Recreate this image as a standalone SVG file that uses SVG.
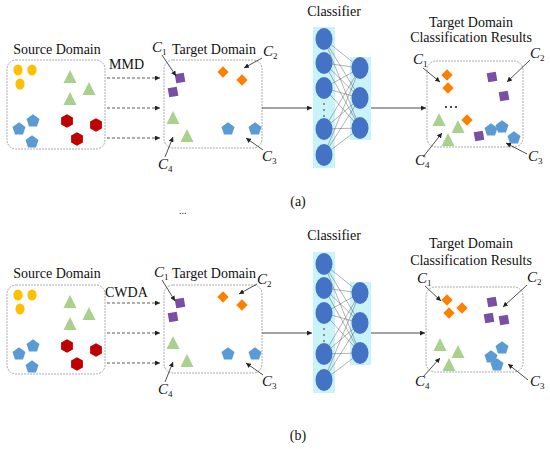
<svg xmlns="http://www.w3.org/2000/svg" xmlns:xlink="http://www.w3.org/1999/xlink" width="550" height="449" viewBox="0 0 550 449">
<style>
text{font-family:"Liberation Serif","Times New Roman",serif;fill:#111}
.t{font-size:14px;text-anchor:middle}
.tl{font-size:14px}
.cl{font-size:15px;font-style:italic}
.sub{font-size:9px;font-style:normal}
.box{fill:#fff;stroke:#aaa;stroke-width:1;stroke-dasharray:2,1}
.dash{stroke:#333;stroke-width:0.8;stroke-dasharray:3,2;fill:none}
.sol{stroke:#333;stroke-width:0.9;fill:none}
.ptr{stroke:#222;stroke-width:0.8;fill:none}
.nn{stroke:#555;stroke-width:0.45}
.bg{fill:#c8f3f8}
.neu{fill:#4472c4}
</style>
<defs>
<marker id="ah" markerUnits="userSpaceOnUse" markerWidth="6" markerHeight="5" refX="5" refY="2.5" orient="auto"><path d="M0,0 L5,2.5 L0,5 Z" fill="#222"/></marker>
<ellipse id="yel" cx="0" cy="0" rx="4.6" ry="5.6" fill="#ffc000"/>
<path id="tri" d="M0,-7 L6.5,6 L-6.5,6 Z" fill="#a9d18e"/>
<path id="pen" d="M0,-6.8 L6.5,-2.1 L4,5.5 L-4,5.5 L-6.5,-2.1 Z" fill="#5b9bd5"/>
<path id="hex" d="M0,-6.8 L5.9,-3.4 L5.9,3.4 L0,6.8 L-5.9,3.4 L-5.9,-3.4 Z" fill="#c00000"/>
<rect id="sq" x="-4.6" y="-4.6" width="9.2" height="9.2" fill="#7a4fa3" transform="rotate(-10)"/>
<rect id="dia" x="-4" y="-4" width="8" height="8" fill="#ff7f00" transform="rotate(45)"/>
</defs>

<!-- ===== Panel (a) ===== -->
<g id="source-a">
<text class="t" x="57" y="54">Source Domain</text>
<rect class="box" x="7" y="60" width="98" height="89" rx="9"/>
<use xlink:href="#yel" x="18" y="70"/><use xlink:href="#yel" x="32" y="70"/><use xlink:href="#yel" x="20" y="84"/>
<use xlink:href="#tri" x="70" y="77"/><use xlink:href="#tri" x="89" y="89"/><use xlink:href="#tri" x="70" y="99"/>
<use xlink:href="#pen" x="19" y="129"/><use xlink:href="#pen" x="33" y="121"/><use xlink:href="#pen" x="32" y="142"/>
<use xlink:href="#hex" x="67" y="121"/><use xlink:href="#hex" x="96" y="125"/><use xlink:href="#hex" x="77" y="139"/>
</g>
<text id="mmd" class="tl" x="109" y="69">MMD</text>

<g id="target-a">
<text class="t" x="214" y="54">Target Domain</text>
<rect class="box" x="164" y="60" width="98" height="88" rx="9"/>
<use xlink:href="#sq" x="180" y="78"/><use xlink:href="#sq" x="173" y="92"/>
<use xlink:href="#dia" x="223" y="72"/><use xlink:href="#dia" x="242" y="80"/>
<use xlink:href="#tri" x="173" y="118"/><use xlink:href="#tri" x="187" y="136"/>
<use xlink:href="#pen" x="228" y="129"/><use xlink:href="#pen" x="255" y="129"/>
<text class="cl" x="152" y="52">C<tspan class="sub" dy="3">1</tspan></text>
<text class="cl" x="263" y="56">C<tspan class="sub" dy="3">2</tspan></text>
<text class="cl" x="262" y="161">C<tspan class="sub" dy="3">3</tspan></text>
<text class="cl" x="158" y="169">C<tspan class="sub" dy="3">4</tspan></text>
</g>

<g id="classifier-a">
<text class="t" x="334" y="16">Classifier</text>
<rect class="bg" x="313" y="27" width="22" height="141"/>
<rect class="bg" x="350" y="57" width="21" height="83"/>
<g class="nn">
<line x1="324" y1="39" x2="360" y2="68"/><line x1="324" y1="39" x2="360" y2="98"/><line x1="324" y1="39" x2="360" y2="128"/>
<line x1="324" y1="63" x2="360" y2="68"/><line x1="324" y1="63" x2="360" y2="98"/><line x1="324" y1="63" x2="360" y2="128"/>
<line x1="324" y1="88" x2="360" y2="68"/><line x1="324" y1="88" x2="360" y2="98"/><line x1="324" y1="88" x2="360" y2="128"/>
<line x1="324" y1="129" x2="360" y2="68"/><line x1="324" y1="129" x2="360" y2="98"/><line x1="324" y1="129" x2="360" y2="128"/>
<line x1="324" y1="155" x2="360" y2="68"/><line x1="324" y1="155" x2="360" y2="98"/><line x1="324" y1="155" x2="360" y2="128"/>
</g>
<g class="neu">
<ellipse cx="324" cy="39" rx="8.5" ry="11"/><ellipse cx="324" cy="63" rx="8.5" ry="11"/><ellipse cx="324" cy="88" rx="8.5" ry="11"/>
<ellipse cx="324" cy="129" rx="8.5" ry="11"/><ellipse cx="324" cy="155" rx="8.5" ry="11"/>
<ellipse cx="360" cy="68" rx="8.5" ry="11"/><ellipse cx="360" cy="98" rx="8.5" ry="11"/><ellipse cx="360" cy="128" rx="8.5" ry="11"/>
</g>
<g fill="#222"><circle cx="324" cy="104" r="0.8"/><circle cx="324" cy="110" r="0.8"/><circle cx="324" cy="116" r="0.8"/></g>
</g>

<g id="results-a">
<text class="t" x="471" y="27">Target Domain</text>
<text class="t" x="471" y="42">Classification Results</text>
<rect class="box" x="427" y="61" width="96" height="86" rx="9"/>
<use xlink:href="#dia" x="447" y="75"/><use xlink:href="#dia" x="448" y="88"/><use xlink:href="#dia" x="467" y="120"/>
<g fill="#111"><circle cx="446" cy="107" r="1"/><circle cx="451" cy="107" r="1"/><circle cx="456" cy="107" r="1"/></g>
<use xlink:href="#sq" x="492" y="77"/><use xlink:href="#sq" x="504" y="96"/><use xlink:href="#sq" x="479" y="136"/>
<use xlink:href="#tri" x="439" y="120"/><use xlink:href="#tri" x="458" y="127"/><use xlink:href="#tri" x="448" y="140"/>
<use xlink:href="#pen" x="491" y="130"/><use xlink:href="#pen" x="502" y="127"/><use xlink:href="#pen" x="514" y="138"/>
<text class="cl" x="413" y="64">C<tspan class="sub" dy="3">1</tspan></text>
<text class="cl" x="530" y="58">C<tspan class="sub" dy="3">2</tspan></text>
<text class="cl" x="528" y="161">C<tspan class="sub" dy="3">3</tspan></text>
<text class="cl" x="415" y="165">C<tspan class="sub" dy="3">4</tspan></text>
</g>

<text id="label-a" class="t" x="298" y="206">(a)</text>
<text id="ellipsis" class="tl" x="179" y="214" style="font-size:10px">...</text>

<!-- ===== Panel (b) ===== -->
<g id="source-b">
<text class="t" x="57" y="278">Source Domain</text>
<rect class="box" x="7" y="285" width="98" height="89" rx="9"/>
<use xlink:href="#yel" x="18" y="295"/><use xlink:href="#yel" x="32" y="295"/><use xlink:href="#yel" x="20" y="309"/>
<use xlink:href="#tri" x="70" y="302"/><use xlink:href="#tri" x="89" y="314"/><use xlink:href="#tri" x="70" y="324"/>
<use xlink:href="#pen" x="19" y="354"/><use xlink:href="#pen" x="33" y="346"/><use xlink:href="#pen" x="32" y="367"/>
<use xlink:href="#hex" x="67" y="346"/><use xlink:href="#hex" x="96" y="350"/><use xlink:href="#hex" x="77" y="364"/>
</g>
<text id="cwda" class="tl" x="105" y="297">CWDA</text>

<g id="target-b">
<text class="t" x="214" y="278">Target Domain</text>
<rect class="box" x="164" y="285" width="98" height="88" rx="9"/>
<use xlink:href="#sq" x="180" y="303"/><use xlink:href="#sq" x="173" y="317"/>
<use xlink:href="#dia" x="223" y="297"/><use xlink:href="#dia" x="242" y="305"/>
<use xlink:href="#tri" x="173" y="343"/><use xlink:href="#tri" x="187" y="361"/>
<use xlink:href="#pen" x="228" y="354"/><use xlink:href="#pen" x="255" y="354"/>
<text class="cl" x="154" y="277">C<tspan class="sub" dy="3">1</tspan></text>
<text class="cl" x="257" y="284">C<tspan class="sub" dy="3">2</tspan></text>
<text class="cl" x="262" y="386">C<tspan class="sub" dy="3">3</tspan></text>
<text class="cl" x="158" y="394">C<tspan class="sub" dy="3">4</tspan></text>
</g>

<g id="classifier-b">
<text class="t" x="334" y="240">Classifier</text>
<rect class="bg" x="313" y="252" width="22" height="141"/>
<rect class="bg" x="350" y="282" width="21" height="83"/>
<g class="nn">
<line x1="324" y1="264" x2="360" y2="293"/><line x1="324" y1="264" x2="360" y2="323"/><line x1="324" y1="264" x2="360" y2="353"/>
<line x1="324" y1="288" x2="360" y2="293"/><line x1="324" y1="288" x2="360" y2="323"/><line x1="324" y1="288" x2="360" y2="353"/>
<line x1="324" y1="313" x2="360" y2="293"/><line x1="324" y1="313" x2="360" y2="323"/><line x1="324" y1="313" x2="360" y2="353"/>
<line x1="324" y1="354" x2="360" y2="293"/><line x1="324" y1="354" x2="360" y2="323"/><line x1="324" y1="354" x2="360" y2="353"/>
<line x1="324" y1="380" x2="360" y2="293"/><line x1="324" y1="380" x2="360" y2="323"/><line x1="324" y1="380" x2="360" y2="353"/>
</g>
<g class="neu">
<ellipse cx="324" cy="264" rx="8.5" ry="11"/><ellipse cx="324" cy="288" rx="8.5" ry="11"/><ellipse cx="324" cy="313" rx="8.5" ry="11"/>
<ellipse cx="324" cy="354" rx="8.5" ry="11"/><ellipse cx="324" cy="380" rx="8.5" ry="11"/>
<ellipse cx="360" cy="293" rx="8.5" ry="11"/><ellipse cx="360" cy="323" rx="8.5" ry="11"/><ellipse cx="360" cy="353" rx="8.5" ry="11"/>
</g>
<g fill="#222"><circle cx="324" cy="329" r="0.8"/><circle cx="324" cy="335" r="0.8"/><circle cx="324" cy="341" r="0.8"/></g>
</g>

<g id="results-b">
<text class="t" x="471" y="248">Target Domain</text>
<text class="t" x="471" y="265">Classification Results</text>
<rect class="box" x="426" y="287" width="97" height="85" rx="9"/>
<use xlink:href="#dia" x="447" y="300"/><use xlink:href="#dia" x="449" y="313"/><use xlink:href="#dia" x="462" y="308"/>
<use xlink:href="#sq" x="492" y="302"/><use xlink:href="#sq" x="489" y="318"/><use xlink:href="#sq" x="504" y="320"/>
<use xlink:href="#tri" x="440" y="345"/><use xlink:href="#tri" x="458" y="352"/><use xlink:href="#tri" x="449" y="365"/>
<use xlink:href="#pen" x="491" y="357"/><use xlink:href="#pen" x="502" y="348"/><use xlink:href="#pen" x="497" y="365"/>
<text class="cl" x="417" y="283">C<tspan class="sub" dy="3">1</tspan></text>
<text class="cl" x="527" y="282">C<tspan class="sub" dy="3">2</tspan></text>
<text class="cl" x="530" y="386">C<tspan class="sub" dy="3">3</tspan></text>
<text class="cl" x="415" y="386">C<tspan class="sub" dy="3">4</tspan></text>
</g>

<text id="label-b" class="t" x="298" y="440">(b)</text>

<!-- ===== Connectors ===== -->
<g id="connectors">
<line class="dash" x1="107" y1="78" x2="160" y2="78" marker-end="url(#ah)"/>
<line class="dash" x1="107" y1="108" x2="160" y2="108" marker-end="url(#ah)"/>
<line class="dash" x1="107" y1="138" x2="160" y2="138" marker-end="url(#ah)"/>
<line class="sol" x1="262" y1="108" x2="312" y2="108" marker-end="url(#ah)"/>
<line class="sol" x1="371" y1="108" x2="426" y2="108" marker-end="url(#ah)"/>
<line class="ptr" x1="162" y1="55" x2="176" y2="76" marker-end="url(#ah)"/>
<line class="ptr" x1="262" y1="58" x2="244" y2="68" marker-end="url(#ah)"/>
<line class="ptr" x1="263" y1="150" x2="246" y2="138" marker-end="url(#ah)"/>
<line class="ptr" x1="165" y1="157" x2="173" y2="137" marker-end="url(#ah)"/>
<line class="ptr" x1="423" y1="68" x2="440" y2="82" marker-end="url(#ah)"/>
<line class="ptr" x1="530" y1="60" x2="507" y2="82" marker-end="url(#ah)"/>
<line class="ptr" x1="527" y1="154" x2="506" y2="143" marker-end="url(#ah)"/>
<line class="ptr" x1="423" y1="157" x2="442" y2="133" marker-end="url(#ah)"/>

<line class="dash" x1="107" y1="303" x2="160" y2="303" marker-end="url(#ah)"/>
<line class="dash" x1="107" y1="333" x2="160" y2="333" marker-end="url(#ah)"/>
<line class="dash" x1="107" y1="363" x2="160" y2="363" marker-end="url(#ah)"/>
<line class="sol" x1="262" y1="333" x2="312" y2="333" marker-end="url(#ah)"/>
<line class="sol" x1="371" y1="333" x2="425" y2="333" marker-end="url(#ah)"/>
<line class="ptr" x1="162" y1="280" x2="175" y2="301" marker-end="url(#ah)"/>
<line class="ptr" x1="257" y1="284" x2="239" y2="294" marker-end="url(#ah)"/>
<line class="ptr" x1="263" y1="375" x2="246" y2="363" marker-end="url(#ah)"/>
<line class="ptr" x1="165" y1="382" x2="173" y2="362" marker-end="url(#ah)"/>
<line class="ptr" x1="425" y1="286" x2="441" y2="301" marker-end="url(#ah)"/>
<line class="ptr" x1="527" y1="285" x2="503" y2="307" marker-end="url(#ah)"/>
<line class="ptr" x1="528" y1="380" x2="508" y2="364" marker-end="url(#ah)"/>
<line class="ptr" x1="423" y1="377" x2="440" y2="358" marker-end="url(#ah)"/>
</g>
</svg>
